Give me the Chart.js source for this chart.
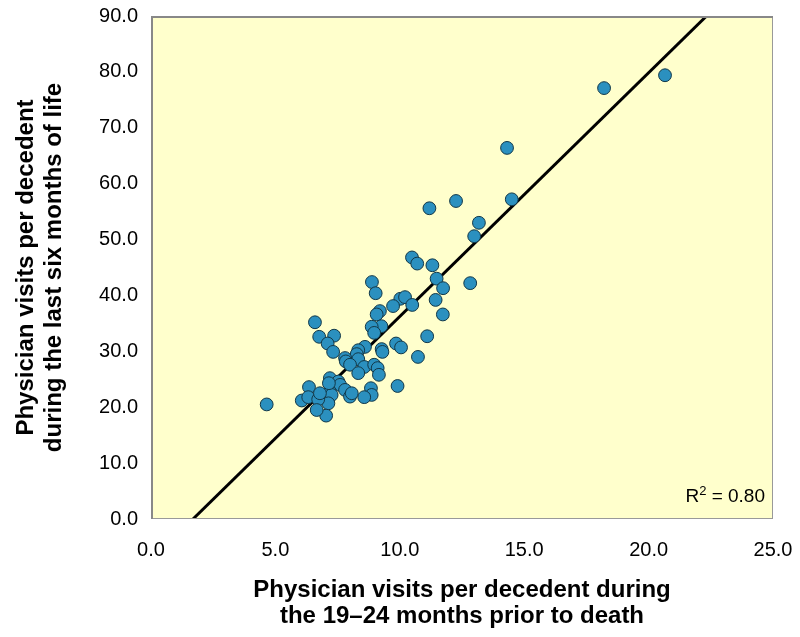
<!DOCTYPE html>
<html>
<head>
<meta charset="utf-8">
<script src="https://cdn.jsdelivr.net/npm/chart.js@4/dist/chart.umd.min.js"></script>
<style>
  html, body { margin: 0; padding: 0; background: #fff; }
</style>
</head>
<body>
<canvas id="visits-chart" width="800" height="637"></canvas>
<script>
// visits per decedent, 19-24 months before death (x) vs last six months (y)
const visitsEarlier = [
  20.66, 18.21, 14.31, 14.50, 12.26, 11.19, 13.18, 12.99, 10.49, 10.70,
  11.31, 11.48, 11.74, 12.83, 11.44, 11.73, 11.10, 10.73, 10.02, 10.21,
  9.73, 10.50, 9.20, 9.07, 8.88, 9.03, 9.26, 8.87, 8.97, 6.59,
  6.76, 7.36, 7.10, 7.32, 9.85, 10.05, 9.27, 9.30, 8.60, 8.33,
  8.27, 7.80, 7.83, 8.33, 8.57, 8.97, 9.11, 8.00, 8.33, 9.16,
  9.91, 7.19, 7.53, 7.60, 7.80, 8.00, 8.07, 7.19, 7.26, 7.13,
  7.04, 8.84, 8.87, 8.57, 4.65, 6.35, 6.06, 6.32, 6.72, 6.79,
  6.66, 7.15
];
const visitsLastSix = [
  79.4, 77.1, 66.4, 57.2, 56.9, 55.6, 53.0, 50.6, 46.8, 45.7,
  45.4, 43.0, 41.3, 42.2, 39.2, 36.6, 32.7, 29.0, 39.4, 39.7,
  38.1, 38.3, 37.2, 36.6, 42.4, 40.4, 34.5, 34.4, 33.3, 35.2,
  32.6, 32.8, 31.4, 29.9, 31.4, 30.7, 30.4, 29.9, 30.8, 30.2,
  29.5, 28.8, 28.2, 28.6, 27.2, 27.6, 27.0, 27.6, 26.1, 25.8,
  23.8, 25.2, 24.6, 24.0, 23.1, 21.9, 22.5, 22.8, 22.2, 20.7,
  18.5, 23.4, 22.2, 21.8, 20.5, 23.6, 21.2, 21.8, 21.4, 22.5,
  19.5, 24.3
];
const xTicks = [0, 5, 10, 15, 20, 25];
const yTicks = [0, 10, 20, 30, 40, 50, 60, 70, 80, 90];

// fitted line
const fitSlope = 4.36;
const fitIntercept = -7.36;
const rSquared = '0.80';

const FONT = '"Liberation Sans", Arial, Helvetica, sans-serif';

const points = visitsEarlier.map((x, i) => ({ x: x, y: visitsLastSix[i] }));
const yMin = yTicks[0], yMax = yTicks[yTicks.length - 1];
const fitLine = [
  { x: (yMin - fitIntercept) / fitSlope, y: yMin },
  { x: (yMax - fitIntercept) / fitSlope, y: yMax }
];

// yellow plot area, grey frame and the R² note
const plotFrame = {
  id: 'plotFrame',
  beforeDatasetsDraw(chart) {
    const { ctx, chartArea: a } = chart;
    ctx.save();
    ctx.fillStyle = '#ffffcc';
    ctx.fillRect(a.left, a.top, a.right - a.left, a.bottom - a.top);
    ctx.restore();
  },
  afterDatasetsDraw(chart) {
    const { ctx, chartArea: a } = chart;
    ctx.save();
    ctx.strokeStyle = '#999';
    ctx.lineWidth = 1;
    ctx.strokeRect(a.left + 0.5, a.top + 0.5, a.right - a.left - 1, a.bottom - a.top - 1);
    ctx.strokeStyle = '#888';
    ctx.lineWidth = 2;
    ctx.beginPath();
    ctx.moveTo(a.left + 1, a.bottom);
    ctx.lineTo(a.left + 1, a.top + 1);
    ctx.lineTo(a.right, a.top + 1);
    ctx.stroke();

    // R² = 0.80
    ctx.fillStyle = '#000';
    ctx.textBaseline = 'alphabetic';
    ctx.textAlign = 'left';
    const base = a.bottom - 17;
    const main = '19px ' + FONT, sup = '13px ' + FONT;
    ctx.font = main;
    const rest = ' = ' + rSquared;
    const wR = ctx.measureText('R').width, wRest = ctx.measureText(rest).width;
    ctx.font = sup;
    const w2 = ctx.measureText('2').width;
    let x = a.right - 8 - wR - w2 - wRest;
    ctx.font = main;
    ctx.fillText('R', x, base);
    ctx.font = sup;
    ctx.fillText('2', x + wR, base - 7);
    ctx.font = main;
    ctx.fillText(rest, x + wR + w2, base);
    ctx.restore();
  }
};

new Chart(document.getElementById('visits-chart'), {
  data: {
    datasets: [
      {
        type: 'scatter',
        data: points,
        backgroundColor: '#2b90bf',
        borderColor: '#123848',
        borderWidth: 1,
        pointRadius: 6.4,
        order: 1
      },
      {
        type: 'line',
        data: fitLine,
        borderColor: '#000',
        borderWidth: 3,
        pointRadius: 0,
        fill: false,
        order: 2
      }
    ]
  },
  options: {
    responsive: false,
    animation: false,
    layout: { padding: { top: 16, right: 27, left: 0, bottom: 0 } },
    plugins: {
      legend: { display: false },
      tooltip: { enabled: false }
    },
    scales: {
      x: {
        type: 'linear',
        min: xTicks[0],
        max: xTicks[xTicks.length - 1],
        afterBuildTicks: (s) => { s.ticks = xTicks.map(v => ({ value: v })); },
        afterFit: (s) => { s.height = 118; s.paddingLeft = 0; s.paddingRight = 0; },
        grid: { display: false, drawTicks: false },
        border: { display: false },
        ticks: {
          padding: 19,
          color: '#000',
          font: { family: FONT, size: 20 },
          callback: (v) => v.toFixed(1)
        },
        title: {
          display: true,
          text: ['Physician visits per decedent during', 'the 19\u201324 months prior to death'],
          color: '#000',
          font: { family: FONT, size: 24, weight: 'bold', lineHeight: 1.1 },
          padding: { bottom: 7 }
        }
      },
      y: {
        type: 'linear',
        min: yMin,
        max: yMax,
        afterBuildTicks: (s) => { s.ticks = yTicks.map(v => ({ value: v })); },
        afterFit: (s) => { s.width = 151; s.paddingTop = 0; s.paddingBottom = 0; },
        grid: { display: false, drawTicks: false },
        border: { display: false },
        ticks: {
          padding: 13,
          color: '#000',
          font: { family: FONT, size: 20 },
          callback: (v) => v.toFixed(1)
        },
        title: {
          display: true,
          text: ['Physician visits per decedent', 'during the last six months of life'],
          color: '#000',
          font: { family: FONT, size: 24, weight: 'bold', lineHeight: 1.17 },
          padding: { top: 12 }
        }
      }
    }
  },
  plugins: [plotFrame]
});
</script>
</body>
</html>
